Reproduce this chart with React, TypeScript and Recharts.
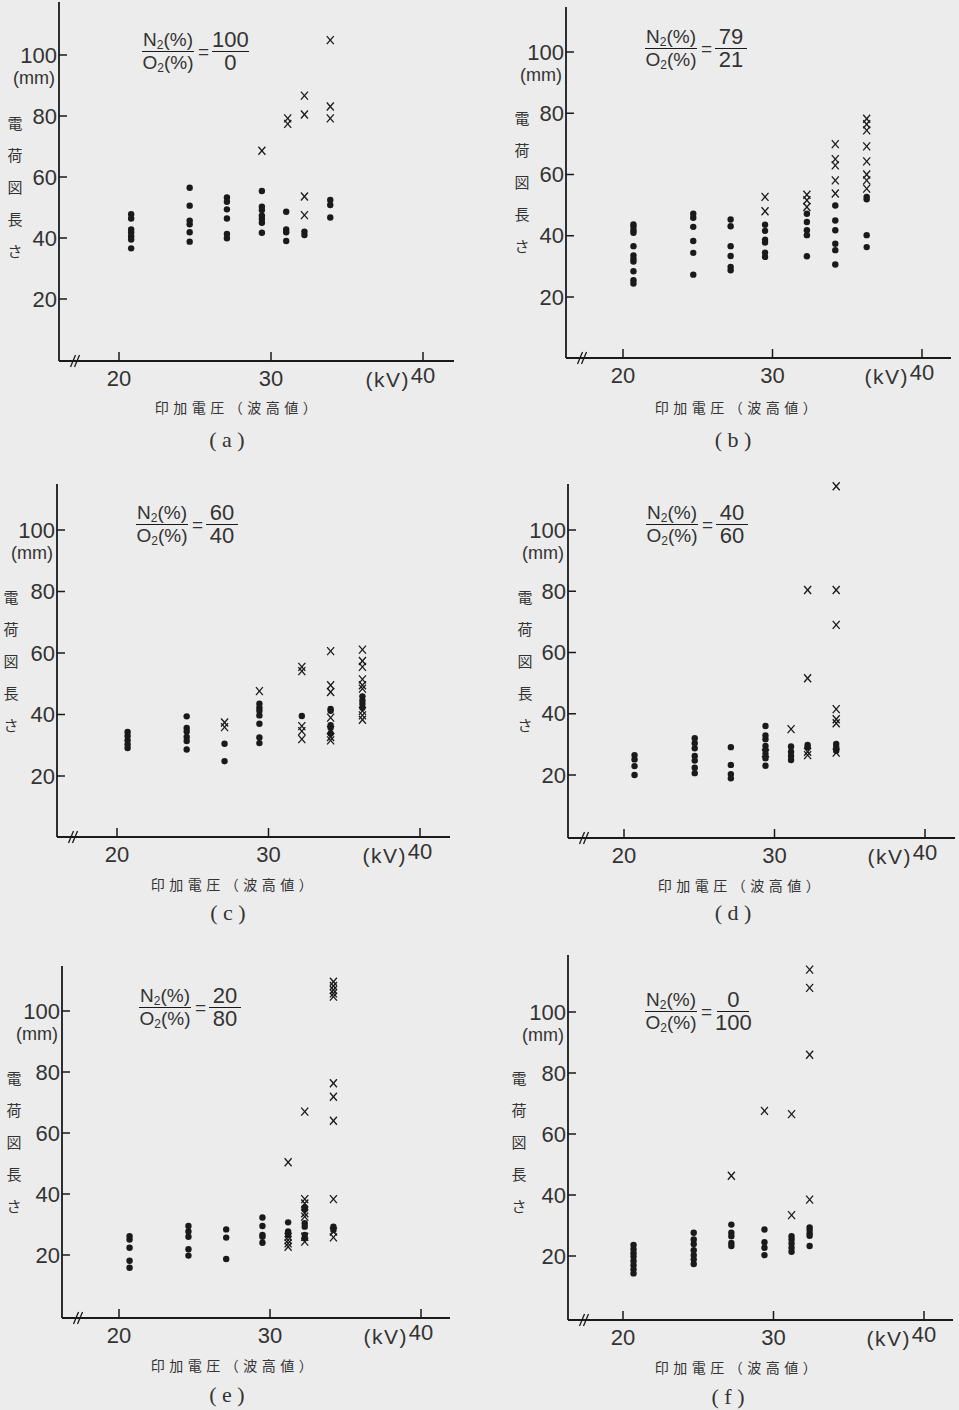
import React from 'react';
import { ScatterChart, Scatter, XAxis, YAxis, ReferenceLine } from 'recharts';

// ---------- data: [kV, mm] ----------
type P = { kv: number; mm: number };
const mk = (rows: [number, number[]][]): P[] =>
  rows.flatMap(([kv, vals]) => vals.map((mm) => ({ kv, mm })));

const A_DOTS = mk([
  [20.8, [47.8, 46.4, 42.8, 41.8, 40.6, 39.5, 36.6]],
  [24.65, [56.5, 50.6, 45.7, 44.5, 41.9, 38.8]],
  [27.1, [53.3, 51.9, 49.4, 46.4, 41.3, 39.9]],
  [29.4, [55.4, 50.3, 49.2, 47.3, 46.2, 45.0, 41.7]],
  [31.0, [48.6, 42.8, 41.9, 39.0]],
  [32.2, [42.1, 41.0]],
  [33.9, [52.5, 50.8, 46.7]],
]);
const A_CROSSES = mk([
  [29.4, [68.6]],
  [31.1, [79.2, 77.4]],
  [32.2, [86.7, 80.5, 53.6, 47.5]],
  [33.9, [104.9, 83.1, 79.2]],
]);

const B_DOTS = mk([
  [20.7, [43.7, 42.9, 41.8, 41.0, 36.6, 33.6, 32.5, 31.6, 28.4, 25.5, 24.4]],
  [24.7, [47.2, 45.9, 42.9, 38.3, 34.4, 27.3]],
  [27.2, [45.3, 43.1, 36.6, 33.4, 29.8, 28.7]],
  [29.5, [43.6, 41.6, 38.7, 37.8, 34.5, 33.1]],
  [32.3, [47.2, 44.5, 41.8, 40.2, 33.3]],
  [34.2, [49.9, 45.0, 41.8, 37.4, 35.3, 30.6]],
  [36.3, [52.7, 51.9, 40.2, 36.3]],
]);
const B_CROSSES = mk([
  [29.5, [52.7, 48.0]],
  [32.3, [53.4, 51.6, 49.4]],
  [34.2, [69.9, 65.0, 63.0, 58.1, 53.8]],
  [36.3, [78.2, 76.4, 74.4, 69.2, 64.3, 60.0, 58.1, 55.4]],
]);

const C_DOTS = mk([
  [20.7, [34.3, 33.0, 31.6, 30.3, 29.1]],
  [24.6, [39.4, 35.6, 34.5, 32.7, 31.4, 28.6]],
  [27.1, [30.5, 24.8]],
  [29.4, [43.5, 42.2, 41.2, 39.7, 37.0, 32.5, 30.7]],
  [32.2, [39.5]],
  [34.1, [41.8, 41.2, 36.5, 35.7, 33.8]],
  [36.2, [45.9, 44.6, 43.5, 42.2]],
]);
const C_CROSSES = mk([
  [27.1, [37.4, 35.9]],
  [29.4, [47.6]],
  [32.2, [55.5, 54.1, 36.2, 34.6, 32.0]],
  [34.1, [60.6, 49.5, 47.3, 39.0, 34.9, 32.7, 31.6]],
  [36.2, [61.1, 57.4, 55.5, 51.4, 49.5, 48.4, 41.2, 39.7, 38.3]],
]);

const D_DOTS = mk([
  [20.7, [26.5, 25.1, 22.9, 20.0]],
  [24.7, [32.0, 30.4, 28.7, 26.2, 24.7, 22.4, 20.6]],
  [27.1, [29.1, 23.3, 20.3, 18.9]],
  [29.4, [36.0, 32.9, 31.7, 29.5, 28.2, 26.9, 25.5, 23.0]],
  [31.1, [29.3, 27.6, 26.2, 24.9]],
  [32.2, [29.8, 29.1]],
  [34.1, [30.1, 29.1, 27.9]],
]);
const D_CROSSES = mk([
  [29.4, [27.1]],
  [31.1, [35.0]],
  [32.2, [80.4, 51.6, 27.6, 26.5]],
  [34.1, [114.3, 80.4, 69.0, 41.5, 38.2, 36.9, 27.3]],
]);

const E_DOTS = mk([
  [20.7, [26.2, 25.1, 22.4, 18.1, 15.8]],
  [24.6, [29.5, 27.7, 26.0, 21.9, 19.8]],
  [27.1, [28.4, 25.7, 18.7]],
  [29.5, [32.3, 29.5, 26.6, 26.0, 24.0]],
  [31.2, [30.7, 27.7, 26.6]],
  [32.3, [35.6, 35.0, 30.4, 29.3, 26.6, 25.5]],
  [34.2, [29.3, 28.2]],
]);
const E_CROSSES = mk([
  [31.2, [50.4, 26.0, 24.9, 23.8, 22.7]],
  [32.3, [67.0, 38.3, 36.9, 33.7, 32.6, 26.0, 24.4]],
  [34.2, [109.6, 108.2, 106.9, 105.8, 104.7, 76.3, 71.9, 64.0, 38.3, 27.7, 25.8]],
]);

const F_DOTS = mk([
  [20.7, [23.6, 22.2, 20.9, 19.8, 18.4, 17.0, 15.6, 14.3]],
  [24.7, [27.6, 25.4, 23.9, 21.9, 20.3, 18.9, 17.4]],
  [27.2, [30.3, 27.6, 26.5, 24.3, 23.3]],
  [29.4, [28.7, 24.5, 22.7, 20.3]],
  [31.2, [26.5, 25.4, 24.1, 22.7, 21.4]],
  [32.4, [29.4, 28.5, 27.4, 26.6, 23.3]],
]);
const F_CROSSES = mk([
  [27.2, [46.3]],
  [29.4, [67.6]],
  [31.2, [66.5, 33.4]],
  [32.4, [113.9, 107.9, 86.0, 38.5]],
]);

const X_TICKS = [20, 30, 40];
const Y_TICKS = [20, 40, 60, 80, 100];
const Y_TITLE = ['電', '荷', '図', '長', 'さ'];
const X_TITLE = '印加電圧（波高値）';
const RATIOS: [string, string][] = [
  ['100', '0'],
  ['79', '21'],
  ['60', '40'],
  ['40', '60'],
  ['20', '80'],
  ['0', '100'],
];
const CAPTIONS = ['a', 'b', 'c', 'd', 'e', 'f'];

// ---------- layout (pixels) ----------
type L = {
  left: number; right: number; top: number; bottom: number;
  x20: number; x40: number; y20: number; y100: number;
  ytX: number; ytY: number; frX: number; frY: number;
  xtX: number; xtY: number; capX: number; capY: number;
};
const LAYOUTS: L[] = [
  { left: 59, right: 454, top: 2, bottom: 361, x20: 119, x40: 423, y20: 299, y100: 55, ytX: 15, ytY: 123, frX: 142, frY: 51, xtX: 238, xtY: 407, capX: 227, capY: 440 },
  { left: 566, right: 951, top: 7, bottom: 358, x20: 623, x40: 922, y20: 297, y100: 52, ytX: 522, ytY: 118, frX: 645, frY: 48, xtX: 738, xtY: 407, capX: 733, capY: 440 },
  { left: 57, right: 450, top: 484, bottom: 837, x20: 117, x40: 420, y20: 776, y100: 530, ytX: 11, ytY: 597, frX: 136, frY: 524, xtX: 234, xtY: 884, capX: 228, capY: 913 },
  { left: 568, right: 955, top: 484, bottom: 838, x20: 624, x40: 925, y20: 775, y100: 530, ytX: 525, ytY: 597, frX: 646, frY: 524, xtX: 741, xtY: 885, capX: 733, capY: 913 },
  { left: 62, right: 450, top: 966, bottom: 1318, x20: 119, x40: 421, y20: 1255, y100: 1011, ytX: 14, ytY: 1078, frX: 139, frY: 1007, xtX: 234, xtY: 1365, capX: 227, capY: 1395 },
  { left: 568, right: 953, top: 955, bottom: 1320, x20: 623, x40: 924, y20: 1256, y100: 1012, ytX: 519, ytY: 1078, frX: 645, frY: 1011, xtX: 738, xtY: 1367, capX: 728, capY: 1397 },
];
const SERIES: [P[], P[]][] = [
  [A_DOTS, A_CROSSES],
  [B_DOTS, B_CROSSES],
  [C_DOTS, C_CROSSES],
  [D_DOTS, D_CROSSES],
  [E_DOTS, E_CROSSES],
  [F_DOTS, F_CROSSES],
];

const INK = '#1a1a1a';
const TXT = '#333333';
const BG = '#ececec';
const SANS = '"Liberation Sans", Arial, sans-serif';
const NARROW = '"Liberation Sans Narrow", "Liberation Sans", Arial, sans-serif';

const DotShape = (p: any) => <circle cx={p.cx} cy={p.cy} r={3.2} fill={INK} />;
const CrossShape = (p: any) => (
  <g stroke={INK} strokeWidth={1.3}>
    <line x1={p.cx - 3.5} y1={p.cy - 4} x2={p.cx + 3.5} y2={p.cy + 4} />
    <line x1={p.cx + 3.5} y1={p.cy - 4} x2={p.cx - 3.5} y2={p.cy + 4} />
  </g>
);

const XTick = (p: any) => {
  const v = p.payload.value;
  return (
    <g>
      <line x1={p.x} y1={p.y} x2={p.x} y2={p.y - 9} stroke={INK} strokeWidth={1.5} />
      <text x={p.x} y={v === 40 ? p.y + 14 : p.y + 17} textAnchor="middle" dominantBaseline="central" fontSize={22} fill={TXT} style={{ fontFamily: NARROW }}>
        {v}
      </text>
      {v === 40 && (
        <text x={p.x - 13} y={p.y + 18} textAnchor="end" dominantBaseline="central" fontSize={21} fill={TXT} letterSpacing={1.5} style={{ fontFamily: NARROW }}>
          (kV)
        </text>
      )}
    </g>
  );
};
const YTick = (p: any) => {
  const v = p.payload.value;
  return (
    <g>
      <line x1={p.x} y1={p.y} x2={p.x + 8} y2={p.y} stroke={INK} strokeWidth={1.5} />
      <text x={p.x - 2} y={p.y} textAnchor="end" dominantBaseline="central" fontSize={22} fill={TXT} style={{ fontFamily: NARROW }}>
        {v}
      </text>
      {v === 100 && (
        <text x={p.x - 4} y={p.y + 23} textAnchor="end" dominantBaseline="central" fontSize={18} fill={TXT} style={{ fontFamily: SANS }}>
          (mm)
        </text>
      )}
    </g>
  );
};

const ML = 60, MT = 10, MR = 10, MB = 40;

function Panel({ i }: { i: number }) {
  const l = LAYOUTS[i];
  const [dots, crosses] = SERIES[i];
  const kvPerPx = 20 / (l.x40 - l.x20);
  const xmin = 20 - (l.x20 - l.left) * kvPerPx;
  const xmax = 40 + (l.right - l.x40) * kvPerPx;
  const mmPerPx = 80 / (l.y20 - l.y100);
  const ymin = 20 - (l.bottom - l.y20) * mmPerPx;
  const ymax = 100 + (l.y100 - l.top) * mmPerPx;
  const w = l.right - l.left + ML + MR;
  const h = l.bottom - l.top + MT + MB;
  const bx1 = xmin + 14 * kvPerPx;
  const bx2 = xmin + 18 * kvPerPx;
  const dx = 2.5 * kvPerPx;
  const dy = 6 * mmPerPx;
  const [num, den] = RATIOS[i];
  return (
    <>
      <div style={{ position: 'absolute', left: l.left - ML, top: l.top - MT, width: w, height: h }}>
        <ScatterChart width={w} height={h} margin={{ top: MT, right: MR, bottom: 0, left: 0 }}>
          <XAxis
            type="number"
            dataKey="kv"
            domain={[xmin, xmax]}
            ticks={X_TICKS}
            interval={0}
            height={MB}
            axisLine={{ stroke: INK, strokeWidth: 1.8 }}
            tickLine={false}
            tickSize={0}
            tickMargin={0}
            tick={<XTick />}
          />
          <YAxis
            type="number"
            dataKey="mm"
            domain={[ymin, ymax]}
            ticks={Y_TICKS}
            interval={0}
            width={ML}
            axisLine={{ stroke: INK, strokeWidth: 1.8 }}
            tickLine={false}
            tickSize={0}
            tickMargin={0}
            tick={<YTick />}
          />
          <ReferenceLine segment={[{ x: bx1 - dx, y: ymin - dy }, { x: bx1 + dx, y: ymin + dy }]} stroke={INK} strokeWidth={1.3} ifOverflow="visible" />
          <ReferenceLine segment={[{ x: bx2 - dx, y: ymin - dy }, { x: bx2 + dx, y: ymin + dy }]} stroke={INK} strokeWidth={1.3} ifOverflow="visible" />
          <Scatter data={dots} shape={DotShape} isAnimationActive={false} />
          <Scatter data={crosses} shape={CrossShape} isAnimationActive={false} />
        </ScatterChart>
      </div>
      {/* vertical y title */}
      <div style={{ position: 'absolute', left: l.ytX - 10, top: l.ytY - 16, width: 20, textAlign: 'center', fontFamily: '"Noto Sans CJK JP", sans-serif', fontSize: 15, lineHeight: '32px', color: TXT }}>
        {Y_TITLE.map((c) => (
          <div key={c}>{c}</div>
        ))}
      </div>
      {/* fraction */}
      <div style={{ position: 'absolute', left: l.frX, top: l.frY - 22, display: 'flex', alignItems: 'center', fontFamily: NARROW, color: TXT }}>
        <div style={{ display: 'flex', flexDirection: 'column', alignItems: 'center' }}>
          <div style={{ height: 22, lineHeight: '22px', fontSize: 19, borderBottom: `1.3px solid ${INK}`, padding: '0 1px' }}>
            N<sub style={{ fontSize: 12, verticalAlign: '-3px' }}>2</sub>(%)
          </div>
          <div style={{ height: 22, lineHeight: '22px', fontSize: 19 }}>
            O<sub style={{ fontSize: 12, verticalAlign: '-3px' }}>2</sub>(%)
          </div>
        </div>
        <div style={{ fontSize: 19, margin: '0 3px 0 4px', lineHeight: '19px' }}>=</div>
        <div style={{ display: 'flex', flexDirection: 'column', alignItems: 'center' }}>
          <div style={{ height: 22, lineHeight: '22px', fontSize: 22, borderBottom: `1.3px solid ${INK}`, minWidth: 32, textAlign: 'center' }}>{num}</div>
          <div style={{ height: 22, lineHeight: '22px', fontSize: 22, minWidth: 32, textAlign: 'center' }}>{den}</div>
        </div>
      </div>
      {/* x title */}
      <div style={{ position: 'absolute', left: l.xtX - 120, top: l.xtY - 10, width: 240, textAlign: 'center', fontFamily: '"Noto Sans CJK JP", sans-serif', fontSize: 14, lineHeight: '20px', letterSpacing: 4.5, color: TXT }}>
        {X_TITLE}
      </div>
      {/* caption */}
      <div style={{ position: 'absolute', left: l.capX - 40, top: l.capY - 13, width: 80, textAlign: 'center', fontFamily: '"Liberation Serif", serif', fontSize: 22, lineHeight: '26px', color: TXT, whiteSpace: 'pre' }}>
        {`( ${CAPTIONS[i]} )`}
      </div>
    </>
  );
}

export default function App() {
  return (
    <div style={{ position: 'absolute', left: 0, top: 0, width: 959, height: 1410, background: BG, overflow: 'hidden' }}>
      {LAYOUTS.map((_, i) => (
        <Panel key={i} i={i} />
      ))}
    </div>
  );
}
